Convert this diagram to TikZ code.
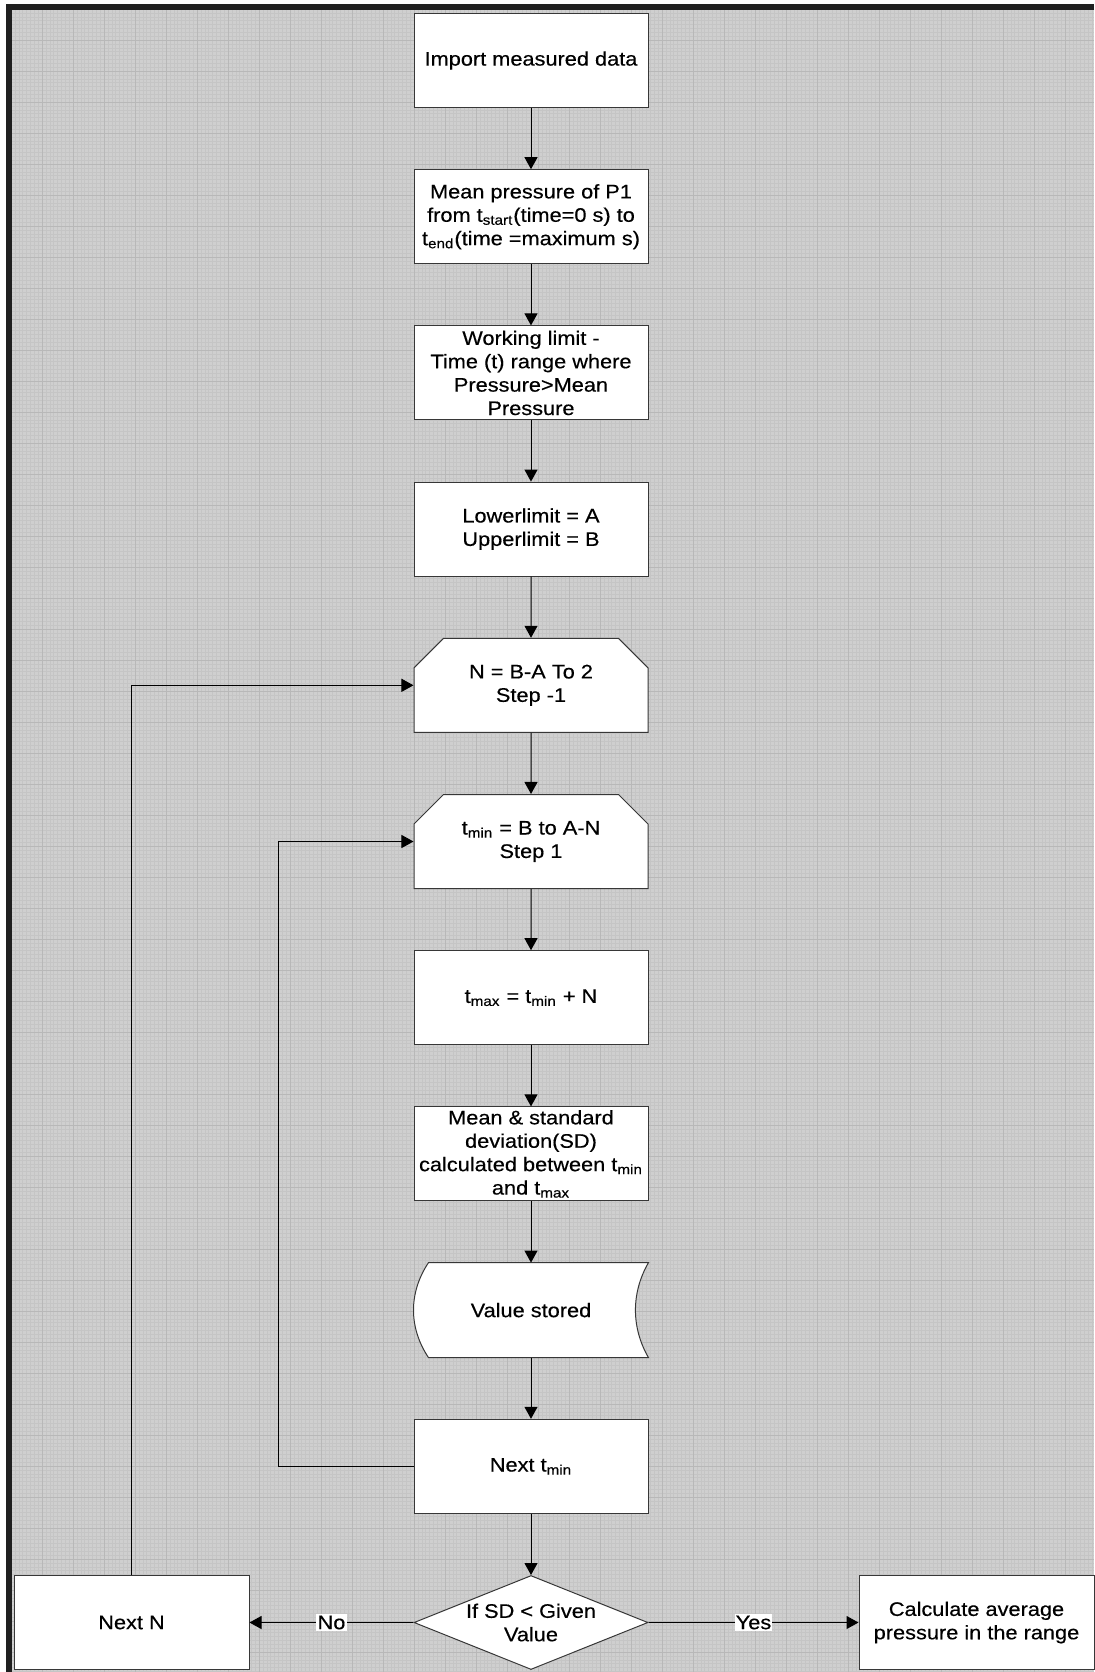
\documentclass[tikz,border=0pt]{standalone}
\usepackage{fontspec}
\setmainfont{Liberation Sans}[FakeStretch=1.11,FakeBold=0.4]
\usetikzlibrary{positioning, arrows.meta}
\usetikzlibrary{shapes.geometric, shapes.misc}
\usetikzlibrary{backgrounds}
\newcommand{\tsub}[1]{\textsubscript{#1}}
\definecolor{sheet}{RGB}{207,207,207}
\definecolor{fineline}{RGB}{197,197,197}
\definecolor{coarseline}{RGB}{184,184,184}
\definecolor{boxline}{RGB}{55,55,55}
\tikzset{
    stepbox/.style={shape=rectangle,draw=boxline,fill=white,line width=0.5pt,minimum width=117pt,minimum height=47pt,align=center,inner sep=1pt,font=\fontsize{9.8pt}{11.7pt}\selectfont},
    loopbox/.style={stepbox,chamfered rectangle,chamfered rectangle corners={north west,north east},chamfered rectangle xsep=13pt},
    storebox/.style={stepbox,draw=none,fill=none},
    decision/.style={stepbox,diamond,aspect=2.49,inner sep=0pt},
    flow/.style={->,line width=0.5pt},
    answer/.style={fill=white,inner sep=0.6pt,font=\fontsize{9.8pt}{11.7pt}\selectfont},
  }
\begin{document}
\begin{tikzpicture}[>={Triangle[length=6pt,width=6.5pt]},node distance=30.6pt]
    \useasboundingbox (0,0) rectangle (547pt,-836pt);
    % paper and grid
    \begin{scope}[on background layer]
        \fill[white] (0,0) rectangle (547pt,-836pt);
        \fill[black!88] (3pt,-2pt) rectangle (547pt,-5pt);
        \fill[black!88] (3pt,-2pt) rectangle (6pt,-836pt);
        \fill[sheet] (6pt,-5pt) rectangle (547pt,-836pt);
        \begin{scope}[shift={(5.5pt,-4.5pt)}]
            \draw[fineline,line width=0.2pt,step=1.9375pt] (0.6pt,-0.6pt) grid (541.5pt,-831.5pt);
            \draw[coarseline,line width=0.4pt,step=15.5pt] (0.6pt,-0.6pt) grid (541.5pt,-831.5pt);
        \end{scope}
    \end{scope}
    % create the nodes
    \node[stepbox,anchor=north] (import) at (265.5pt,-6.5pt) {Import measured data};
    \node[stepbox] (meanp)[below =of import] {Mean pressure of P1\\from t\tsub{start}(time=0 s) to\\t\tsub{end}(time =maximum s)};
    \node[stepbox] (work)[below =of meanp] {Working limit -\\Time (t) range where\\Pressure>Mean\\Pressure};
    \node[stepbox] (limits)[below =of work] {Lowerlimit = A\\Upperlimit = B};
    \node[loopbox] (loopN)[below =of limits] {N = B-A To 2\\Step -1};
    \node[loopbox] (looptmin)[below =of loopN] {t\tsub{min} = B to A-N\\Step 1};
    \node[stepbox] (tmax)[below =of looptmin] {t\tsub{max} = t\tsub{min} + N};
    \node[stepbox] (stats)[below =of tmax] {Mean \& standard\\deviation(SD)\\calculated between t\tsub{min}\\and t\tsub{max}};
    \node[storebox] (store)[below =of stats] {Value stored};
    \node[stepbox] (nexttmin)[below =of store] {Next t\tsub{min}};
    \node[decision] (decide)[below =of nexttmin] {If SD < Given\\Value};
    \node[stepbox,minimum width=117.5pt] (nextN)[left =82pt of decide] {Next N};
    \node[stepbox,minimum width=117.5pt] (avg)[right =105pt of decide] {Calculate average\\pressure in the range};
    % stored data outline
    \begin{scope}[on background layer]
        \draw[draw=boxline,fill=white,line width=0.5pt] ([xshift=7.5pt]store.north west) -- (store.north east)
            .. controls +(-8.7pt,-15pt) and +(-8.7pt,15pt) .. (store.south east)
            -- ([xshift=7.5pt]store.south west)
            .. controls +(-10pt,15pt) and +(-10pt,-15pt) .. ([xshift=7.5pt]store.north west) -- cycle;
    \end{scope}
    % connect them
    \draw[flow] (import) -- (meanp);
    \draw[flow] (meanp) -- (work);
    \draw[flow] (work) -- (limits);
    \draw[flow] (limits) -- (loopN);
    \draw[flow] (loopN) -- (looptmin);
    \draw[flow] (looptmin) -- (tmax);
    \draw[flow] (tmax) -- (stats);
    \draw[flow] (stats) -- (store);
    \draw[flow] (store) -- (nexttmin);
    \draw[flow] (nexttmin) -- (decide);
    \draw[flow] (decide) -- node[answer] {No} (nextN);
    \draw[flow] (decide) -- node[answer] {Yes} (avg);
    \draw[flow] (nextN) |- (loopN); %outer loop
    \draw[flow] (nexttmin.west) -- ++(-67.5pt,0) |- (looptmin); %inner loop
\end{tikzpicture}
\end{document}
